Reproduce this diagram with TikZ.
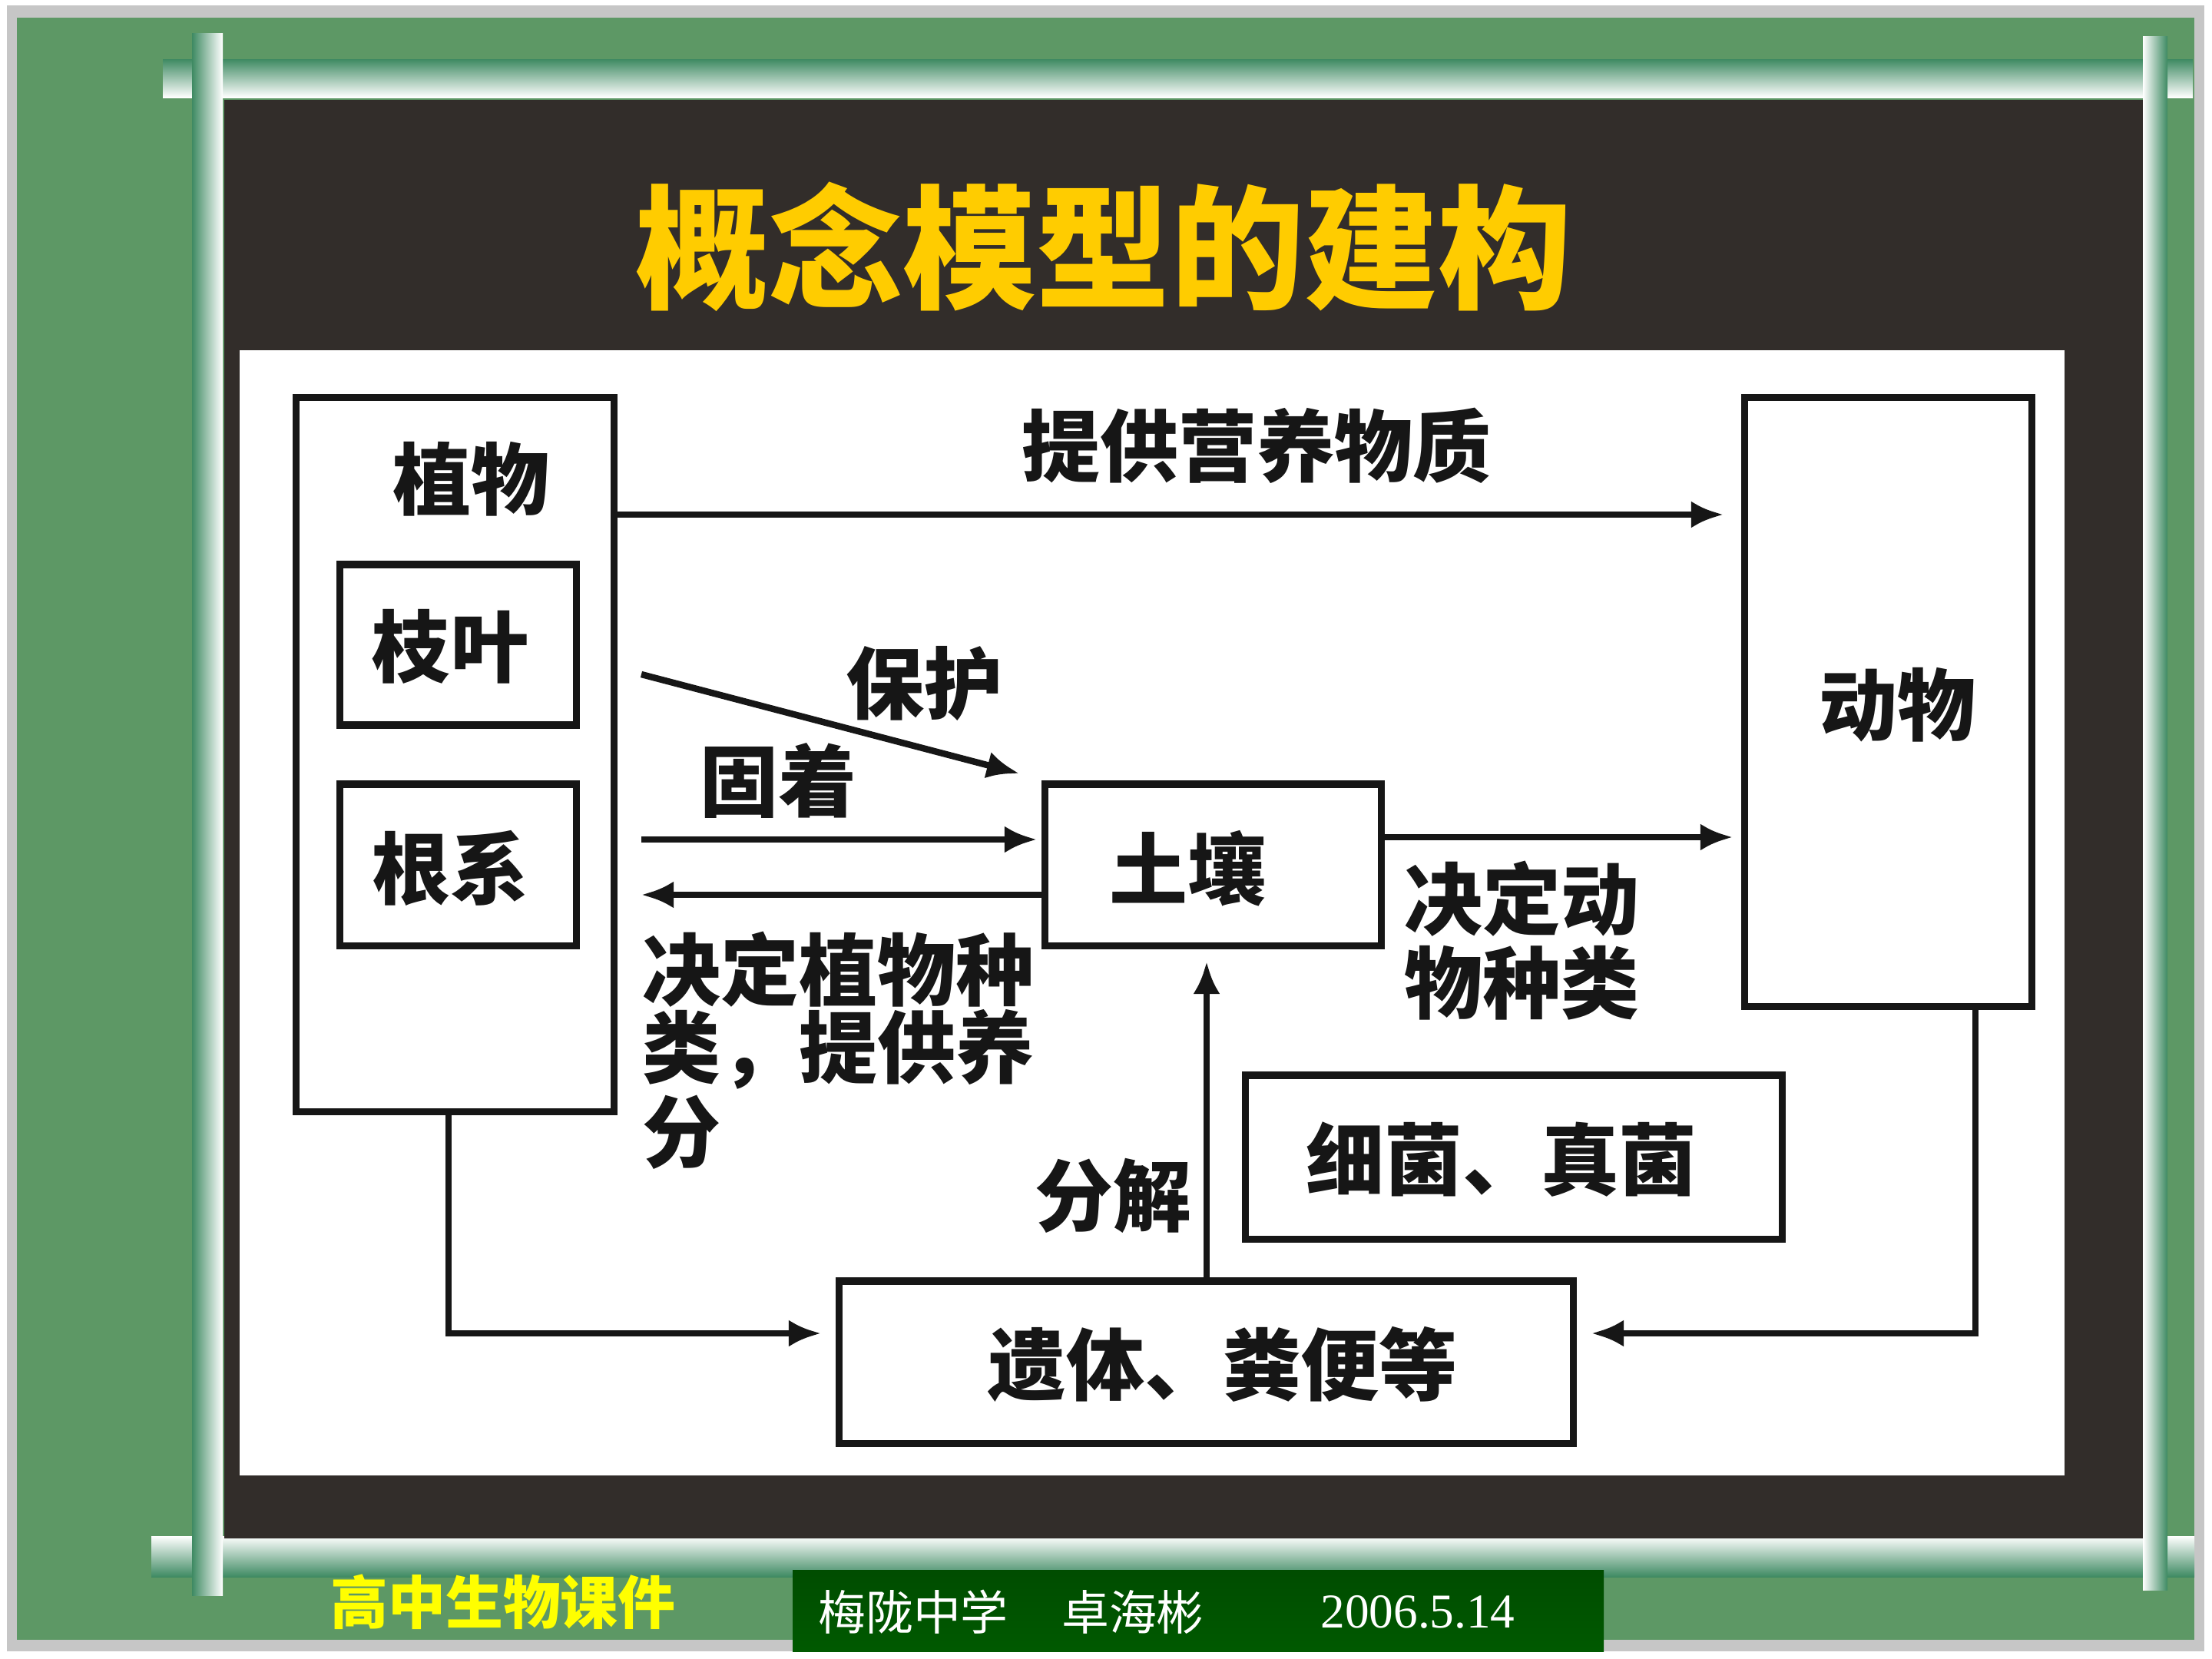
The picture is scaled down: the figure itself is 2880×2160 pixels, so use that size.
\documentclass[tikz,border=0pt]{standalone}
\usepackage{fontspec}
\newfontfamily\cjk{Noto Sans CJK SC}
\newfontfamily\tnr{Liberation Serif}
\usetikzlibrary{arrows.meta}
\definecolor{ink}{HTML}{161616}
\definecolor{bgGreen}{HTML}{5D9865}
\definecolor{barDark}{HTML}{3E8A62}
\definecolor{panelDark}{HTML}{322D2A}
\definecolor{frameGrey}{HTML}{C6C6C6}
\definecolor{titleGold}{HTML}{FFCC00}
\definecolor{footYellow}{HTML}{FFFF00}
\tikzset{
  box/.style={draw=ink, line width=2.6pt, inner sep=0pt, fill=white},
  lbl/.style={font=\cjk\bfseries\fontsize{29}{29}\selectfont, text=ink, inner sep=0pt},
  arr/.style={draw=ink, line width=2.4pt, -{Latex[length=12pt,width=10pt]}},
  foot/.style={inner sep=0pt, text=white}
}
\begin{document}
\begin{tikzpicture}[x=0.01cm,y=-0.01cm]
\useasboundingbox (0,0) rectangle (2880,2160);
% frame
\fill[white] (0,0) rectangle (2880,2160);
\fill[frameGrey] (9,7) rectangle (2870,2150);
\fill[bgGreen] (22,23) rectangle (2857,2135);
% horizontal bars
\shade[top color=barDark, bottom color=white] (212,77) rectangle (2855,127);
\shade[top color=white, bottom color=barDark] (197,2000) rectangle (2857,2053);
% dark panel
\fill[panelDark] (292,130) rectangle (2790,2003);
% vertical bars
\shade[left color=barDark, right color=white] (250,43) rectangle (290,2077);
\shade[left color=white, right color=barDark] (2790,47) rectangle (2822,2070);
% white panel
\fill[white] (312,456) rectangle (2688,1921);
% title
\node[inner sep=0pt, text=titleGold, font=\cjk\bfseries\fontsize{49.5}{49.5}\selectfont] (title) at (1437,321) {概念模型的建构};

% boxes
\node[box, minimum width=4.13cm, minimum height=9.29cm] (zhiwu) at (592.5,982.5) {};
\node[lbl] (zhiwuT) at (613,624) {植物};
\node[box, minimum width=3.07cm, minimum height=2.09cm] (zhiye) at (596.5,839.5) {};
\node[lbl] (zhiyeT) at (586,842) {枝叶};
\node[box, minimum width=3.07cm, minimum height=2.10cm] (genxi) at (596.5,1126) {};
\node[lbl] (genxiT) at (586,1130) {根系};
\node[box, minimum width=4.37cm, minimum height=2.10cm] (turang) at (1579.5,1126) {};
\node[lbl] (turangT) at (1546,1131) {土壤};
\node[box, minimum width=3.73cm, minimum height=7.92cm] (dongwu) at (2458.5,914) {};
\node[lbl] (dongwuT) at (2470,918) {动物};
\node[box, minimum width=6.98cm, minimum height=2.13cm] (xijun) at (1971,1506.5) {};
\node[lbl] (xijunT) at (1955,1510) {细菌、真菌};
\node[box, minimum width=9.55cm, minimum height=2.11cm] (yiti) at (1570.5,1773.5) {};
\node[lbl] (yitiT) at (1592,1776) {遗体、粪便等};

% connectors
\coordinate (a1e) at (2244,670);
\draw[arr] (zhiwu.east |- a1e) -- (a1e);
\coordinate (bh1) at (835,878);
\coordinate (bh2) at (1327,1007);
\draw[arr] (bh1) -- (bh2);
\coordinate (gz1) at (835,1093);
\coordinate (gz2) at (1350,1093);
\draw[arr] (gz1) -- (gz2);
\coordinate (bk2) at (835,1165);
\draw[arr] (turang.west |- bk2) -- (bk2);
\coordinate (td2) at (2256,1090);
\draw[arr] (turang.east |- td2) -- (td2);
\coordinate (fj2) at (1571,1252);
\draw[arr] (yiti.north -| fj2) -- (fj2);
\coordinate (zwc) at (584,1736);
\coordinate (zw2) at (1069,1736);
\draw[arr] (zhiwu.south -| zwc) |- (zw2);
\coordinate (dwc) at (2572,1736);
\coordinate (dw2) at (2072,1736);
\draw[arr] (dongwu.south -| dwc) |- (dw2);

% labels
\node[lbl] (l1) at (1636,580) {提供营养物质};
\node[lbl] (l2) at (1203,890) {保护};
\node[lbl] (l3) at (1013,1016) {固着};
\node[lbl, anchor=west] (l4a) at (836,1262) {决定植物种};
\node[lbl, anchor=west] (l4b) at (836,1366) {类，提供养};
\node[lbl, anchor=west] (l4c) at (836,1474) {分};
\node[lbl, anchor=west] (l5a) at (1828,1170) {决定动};
\node[lbl, anchor=west] (l5b) at (1828,1280) {物种类};
\node[lbl] (l6) at (1449,1557) {分解};

% footer
\node[inner sep=0pt, text=footYellow, font=\cjk\bfseries\fontsize{21.3}{21.3}\selectfont] (foot1) at (655,2086) {高中生物课件};
\shade[top color=green!30!black, middle color=green!55!black, bottom color=green!35!black] (1032,2044) rectangle (2088,2150);
\node[foot, font=\cjk\fontsize{17.6}{17.6}\selectfont] (foot2) at (1189,2099) {梅陇中学};
\node[foot, font=\cjk\fontsize{17.6}{17.6}\selectfont] (foot3) at (1475,2099) {卓海彬};
\node[foot, font=\tnr\fontsize{18}{18}\selectfont] (foot4) at (1846,2099) {2006.5.14};
\end{tikzpicture}
\end{document}
